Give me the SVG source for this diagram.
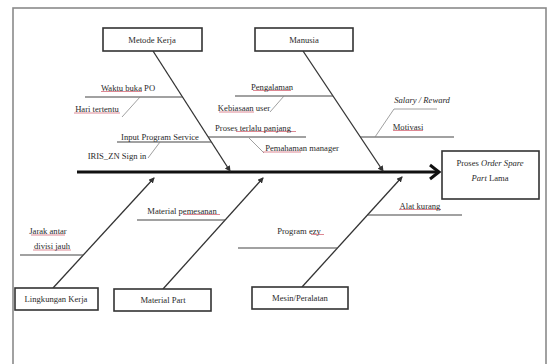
<svg xmlns="http://www.w3.org/2000/svg" width="549" height="364" viewBox="0 0 549 364">
<style>
.frame{fill:none;stroke:#8a8a8a;stroke-width:1.6}
.box{fill:#fff;stroke:#333;stroke-width:1.6}
.bone{stroke:#333;stroke-width:1.3;fill:none}
.sub{stroke:#444;stroke-width:1.2;fill:none}
.thin{stroke:#888;stroke-width:0.8;fill:none}
.sq{stroke:#d46a78;stroke-width:0.8;fill:none}
text{font-family:"Liberation Serif","Times New Roman",serif;font-size:8.6px;fill:#2a2a2a;text-anchor:middle}
.it{font-style:italic}
</style>
<defs>
<marker id="ah" markerWidth="6" markerHeight="6" refX="5" refY="3" orient="auto" markerUnits="userSpaceOnUse">
<path d="M0,0 L6,3 L0,6 z" fill="#333"/>
</marker>
</defs>
<rect x="0" y="0" width="549" height="364" fill="#fff"/>
<rect class="frame" x="13" y="8" width="533" height="370"/>

<g id="connectors">
<line x1="77" y1="172" x2="438" y2="172" stroke="#111" stroke-width="3"/>
<polyline points="430,165 439,172 430,179" fill="none" stroke="#111" stroke-width="3"/>
<line class="bone" x1="153" y1="51" x2="230" y2="171" marker-end="url(#ah)"/>
<line class="bone" x1="303" y1="51" x2="383" y2="171" marker-end="url(#ah)"/>
<line class="bone" x1="53" y1="288" x2="154" y2="178" marker-end="url(#ah)"/>
<line class="bone" x1="163" y1="289" x2="263" y2="178" marker-end="url(#ah)"/>
<line class="bone" x1="302" y1="287" x2="402" y2="177" marker-end="url(#ah)"/>
<line class="sub" x1="85" y1="97" x2="183" y2="97"/>
<line class="sub" x1="117" y1="142" x2="211" y2="142"/>
<line class="sub" x1="235" y1="96" x2="333" y2="96"/>
<line class="sub" x1="208" y1="137" x2="306" y2="137"/>
<line class="sub" x1="360" y1="137" x2="454" y2="137"/>
<line class="sub" x1="20" y1="255" x2="83" y2="255"/>
<line class="sub" x1="137" y1="220" x2="225" y2="220"/>
<line class="sub" x1="238" y1="248" x2="337" y2="248"/>
<line class="sub" x1="367" y1="215" x2="462" y2="215"/>
<polyline class="thin" points="122,117 140,97"/>
<polyline class="thin" points="148,158 160,142"/>
<polyline class="thin" points="270,112 284,96"/>
<polyline class="thin" points="249,138 264,153"/>
<polyline class="thin" points="375,137 394,109 437,109"/>
</g>

<g id="spelling">
<line class="sq" x1="130" y1="45.5" x2="174" y2="45.5"/>
<line class="sq" x1="290" y1="45.5" x2="318" y2="45.5"/>
<line class="sq" x1="101" y1="91.5" x2="142" y2="91.5"/>
<line class="sq" x1="74" y1="113" x2="120" y2="113"/>
<line class="sq" x1="253" y1="90.5" x2="291" y2="90.5"/>
<line class="sq" x1="219" y1="112" x2="254" y2="112"/>
<line class="sq" x1="236" y1="131.5" x2="296" y2="131.5"/>
<line class="sq" x1="263" y1="152" x2="301" y2="152"/>
<line class="sq" x1="393" y1="130.5" x2="423" y2="130.5"/>
<line class="sq" x1="399" y1="209.5" x2="441" y2="209.5"/>
<line class="sq" x1="183" y1="214.5" x2="220" y2="214.5"/>
<line class="sq" x1="311" y1="234.5" x2="324" y2="234.5"/>
<line class="sq" x1="31" y1="235" x2="65" y2="235"/>
<line class="sq" x1="33" y1="250" x2="71" y2="250"/>
<line class="sq" x1="25" y1="302.5" x2="87" y2="302.5"/>
<line class="sq" x1="271" y1="301.5" x2="329" y2="301.5"/>
</g>

<g id="metode-kerja">
<rect class="box" x="103" y="28" width="99" height="23"/>
<text x="152" y="42.5">Metode Kerja</text>
</g>
<g id="manusia">
<rect class="box" x="255" y="28" width="98" height="23"/>
<text x="304" y="42.5">Manusia</text>
</g>
<g id="effect">
<rect class="box" x="442" y="151" width="97" height="48"/>
<text x="490" y="166">Proses <tspan class="it">Order Spare</tspan></text>
<text x="490" y="181"><tspan class="it">Part</tspan> Lama</text>
</g>
<g id="lingkungan-kerja">
<rect class="box" x="15" y="288" width="83" height="22"/>
<text x="56" y="301.5">Lingkungan Kerja</text>
</g>
<g id="material-part">
<rect class="box" x="114" y="289" width="97" height="22"/>
<text x="163" y="302.5">Material Part</text>
</g>
<g id="mesin-peralatan">
<rect class="box" x="252" y="287" width="96" height="22"/>
<text x="300" y="300.5">Mesin/Peralatan</text>
</g>

<g id="causes">
<text x="128" y="90.5">Waktu buka PO</text>
<text x="97" y="111.5">Hari tertentu</text>
<text x="160" y="139.5">Input Program Service</text>
<text x="117" y="158.5">IRIS_ZN Sign in</text>
<text x="272" y="89.5">Pengalaman</text>
<text x="244" y="110.5">Kebiasaan user</text>
<text x="253" y="130.5">Proses terlalu panjang</text>
<text x="302" y="150.5">Pemahaman manager</text>
<text class="it" x="422" y="102.5">Salary / Reward</text>
<text x="408" y="129.5">Motivasi</text>
<text x="420" y="208.5">Alat kurang</text>
<text x="299" y="233.5">Program ezy</text>
<text x="182" y="213.5">Material pemesanan</text>
<text x="48" y="234">Jarak antar</text>
<text x="52" y="249">divisi jauh</text>
</g>
</svg>
